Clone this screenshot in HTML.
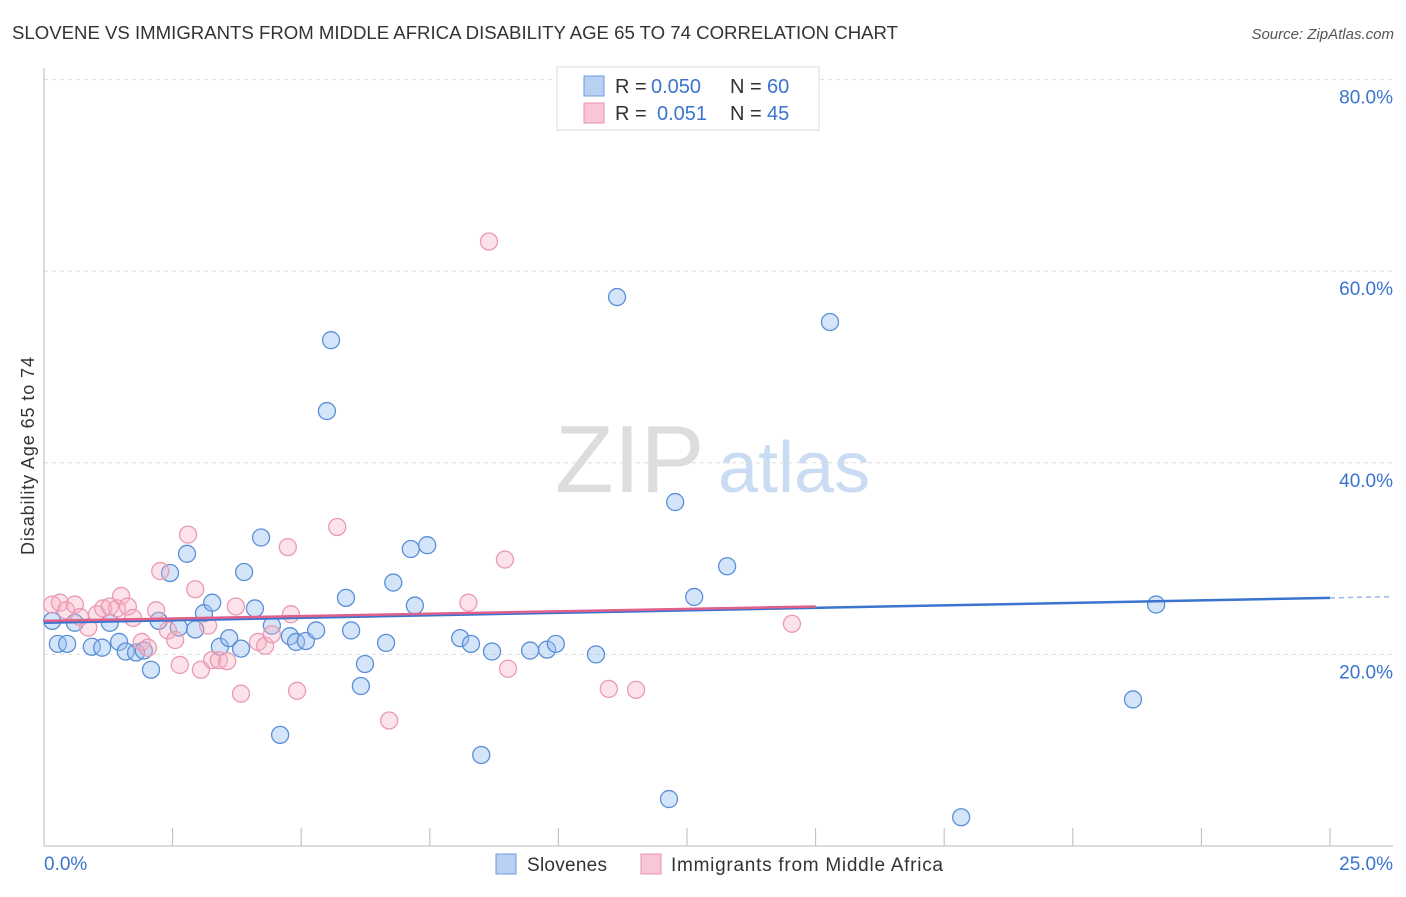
<!DOCTYPE html>
<html><head><meta charset="utf-8"><style>
body{margin:0;background:#fff;font-family:"Liberation Sans",sans-serif}
svg text{font-family:"Liberation Sans",sans-serif}
</style></head><body>
<svg id="c" width="1406" height="892">
<text x="12" y="39" font-size="18" fill="#333" textLength="886" lengthAdjust="spacingAndGlyphs">SLOVENE VS IMMIGRANTS FROM MIDDLE AFRICA DISABILITY AGE 65 TO 74 CORRELATION CHART</text>
<text x="1394" y="39" font-size="15" fill="#555" text-anchor="end" font-style="italic">Source: ZipAtlas.com</text>
<text x="34" y="456" font-size="18" fill="#333" text-anchor="middle" textLength="198" transform="rotate(-90 34 456)">Disability Age 65 to 74</text>
<text x="555" y="492" font-size="96" fill="#ddd" font-family="Liberation Serif">ZIP</text>
<text x="718" y="492" font-size="72" fill="#c9dcf3">atlas</text>
<g id="grid"></g><g id="pts"></g><g id="trend"></g>
<g>
<rect x="557" y="67" width="262" height="63" fill="#fff" stroke="#ddd"/>
<rect x="584" y="76" width="20" height="20" fill="#b8d1f3" stroke="#6c9be0"/>
<rect x="584" y="103" width="20" height="20" fill="#f8c6d4" stroke="#e891ab"/>
<text x="615" y="93" font-size="20" fill="#333">R =</text>
<text x="651" y="93" font-size="20" fill="#3a74cf">0.050</text>
<text x="730" y="93" font-size="20" fill="#333">N =</text>
<text x="767" y="93" font-size="20" fill="#3a74cf">60</text>
<text x="615" y="120" font-size="20" fill="#333">R =</text>
<text x="657" y="120" font-size="20" fill="#3a74cf">0.051</text>
<text x="730" y="120" font-size="20" fill="#333">N =</text>
<text x="767" y="120" font-size="20" fill="#3a74cf">45</text>
</g>
<g>
<rect x="496" y="854" width="20" height="20" fill="#b8d1f3" stroke="#6c9be0"/>
<text x="527" y="871" font-size="19" fill="#333" textLength="80">Slovenes</text>
<rect x="641" y="854" width="20" height="20" fill="#f8c6d4" stroke="#e891ab"/>
<text x="671" y="871" font-size="19" fill="#333" textLength="272">Immigrants from Middle Africa</text>
</g>
</svg>
<script>
const yTicks=[20,40,60,80];
const xTickLabels=["0.0%","25.0%"];
const blueX=[0.16,0.27,0.45,0.60,0.93,1.13,1.28,1.46,1.59,1.79,1.94,2.08,2.23,2.45,2.62,2.78,2.94,3.11,3.27,3.42,3.60,3.83,3.89,4.1,4.22,4.43,4.59,4.78,4.9,5.09,5.29,5.5,5.58,5.87,5.97,6.24,6.16,6.65,6.79,7.13,7.21,7.45,8.09,8.3,8.5,8.71,9.45,9.78,9.95,10.73,11.14,12.15,12.27,12.64,13.28,15.28,17.83,21.17,21.62];
const blueY=[23.5,21.1,21.1,23.3,20.8,20.7,23.3,21.3,20.3,20.2,20.4,18.4,23.5,28.5,22.8,30.5,22.6,24.3,25.4,20.8,21.7,20.6,28.6,24.8,32.2,23.0,11.6,21.9,21.3,21.4,22.5,45.4,52.8,25.9,22.5,19.0,16.7,21.2,27.5,31.0,25.1,31.4,21.7,21.1,9.5,20.3,20.4,20.5,21.1,20.0,57.3,4.9,35.9,26.0,29.2,54.7,3.0,15.3,25.2];
const pinkX=[0.16,0.31,0.43,0.6,0.7,0.86,1.03,1.15,1.28,1.42,1.5,1.63,1.73,1.9,2.02,2.18,2.26,2.41,2.55,2.64,2.8,2.94,3.05,3.19,3.27,3.4,3.56,3.73,3.83,4.16,4.3,4.43,4.74,4.8,4.92,5.7,6.71,8.25,8.65,8.96,9.02,10.98,11.51,14.54];
const pinkY=[25.2,25.4,24.6,25.2,23.9,22.8,24.2,24.8,25.0,24.8,26.1,25.0,23.8,21.3,20.7,24.6,28.7,22.5,21.5,18.9,32.5,26.8,18.4,23.0,19.4,19.4,19.3,25.0,15.9,21.3,20.9,22.1,31.2,24.2,16.2,33.3,13.1,25.4,63.1,29.9,18.5,16.4,16.3,23.2];
const trendBlue=[[0,23.3],[25,25.9]];
const trendPink=[[0,23.5],[15,25.0]];
const X=v=>44+v*51.44, Y=v=>846-v*9.58;
const NS="http://www.w3.org/2000/svg";
function mk(t,a,p){const e=document.createElementNS(NS,t);for(const k in a)e.setAttribute(k,a[k]);p.appendChild(e);return e;}
const g=document.getElementById('grid');
yTicks.forEach(t=>{
 const l=mk('line',{x1:44,x2:1393,y1:Y(t),y2:Y(t),stroke:'#ddd','stroke-dasharray':'4 4'},g);
 
 
 const tx=mk('text',{x:1393,y:Y(t)+24,'font-size':19,fill:'#3a74cf','text-anchor':'end'},g);
 tx.textContent=t.toFixed(1)+'%';
 
 
});
mk('line',{x1:44,x2:44,y1:68,y2:846,stroke:'#bbb'},g);
mk('line',{x1:44,x2:1393,y1:846,y2:846,stroke:'#bbb'},g);
for(let i=0;i<=10;i++){mk('line',{x1:X(i*2.5),x2:X(i*2.5),y1:828,y2:846,stroke:'#bbb'},g);}
[[0,'start',44],[25,'end',1393]].forEach((d,i)=>{
 const tx=mk('text',{x:d[2],y:870,'font-size':19,fill:'#3a74cf','text-anchor':d[1]},g);
 tx.textContent=xTickLabels[i];
 
 
});
const p=document.getElementById('pts');
blueX.forEach((x,i)=>{
 const c=mk('circle',{cx:X(x),cy:Y(blueY[i]),r:8.5,fill:'rgba(150,190,240,0.4)',stroke:'#5a8fd8','stroke-width':1.3},p);
 
 
});
pinkX.forEach((x,i)=>{
 const c=mk('circle',{cx:X(x),cy:Y(pinkY[i]),r:8.5,fill:'rgba(245,175,195,0.35)',stroke:'#ea9ab2','stroke-width':1.3},p);
 
 
});
const tg=document.getElementById('trend');
const bl=mk('line',{x1:X(trendBlue[0][0]),y1:Y(trendBlue[0][1]),x2:X(trendBlue[1][0]),y2:Y(trendBlue[1][1]),stroke:'#3a74cf','stroke-width':2.5},tg);


const sl=(trendBlue[1][1]-trendBlue[0][1])/(trendBlue[1][0]-trendBlue[0][0]);
mk('line',{x1:X(25),y1:Y(trendBlue[1][1]),x2:1393,y2:Y(trendBlue[1][1]+sl*1.23),stroke:'#9bb8e6','stroke-width':1.5,'stroke-dasharray':'5 4'},tg);
const pl=mk('line',{x1:X(trendPink[0][0]),y1:Y(trendPink[0][1]),x2:X(trendPink[1][0]),y2:Y(trendPink[1][1]),stroke:'#e0608a','stroke-width':2.5},tg);


</script>
</body></html>
